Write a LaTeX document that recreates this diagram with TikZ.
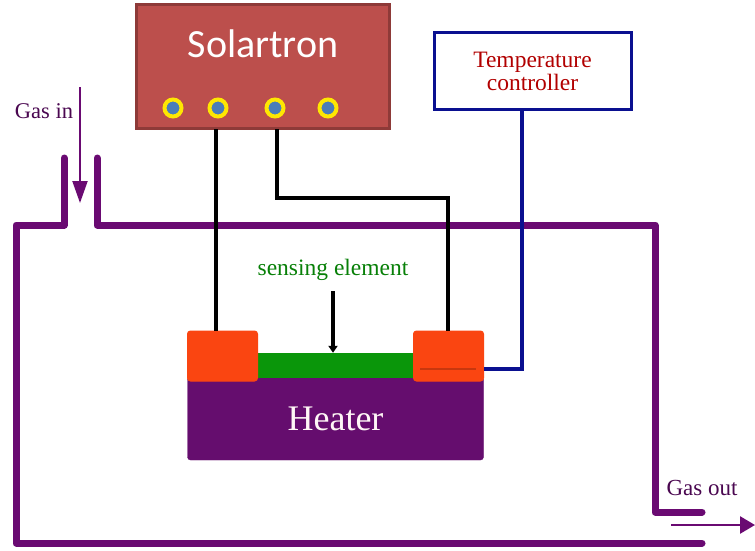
\documentclass[tikz,border=0pt]{standalone}
\usepackage{fontspec}
\setmainfont{Liberation Serif}
\newfontfamily\labelfont{Carlito}
\usetikzlibrary{arrows.meta}
\definecolor{pipecol}{HTML}{6A0A72}
\definecolor{boxred}{HTML}{BC4F4C}
\definecolor{boxedge}{HTML}{8E3A38}
\definecolor{heatcol}{HTML}{650D6E}
\definecolor{padcol}{HTML}{FA4511}
\definecolor{filmcol}{HTML}{0A960A}
\definecolor{ctrlblue}{HTML}{0A1090}
\definecolor{portblue}{HTML}{4A7DB8}
\tikzset{
  pipe/.style={draw=pipecol, line width=7pt, line cap=round, line join=round},
  wire/.style={draw=black, line width=3.4pt},
  pad/.style={draw=padcol, fill=padcol, rounded corners=3pt, line width=1pt, minimum width=70pt, minimum height=50pt, inner sep=0pt},
  port/.style={circle, draw=yellow!90!orange, fill=portblue, line width=4pt, minimum size=17pt, inner sep=0pt}
}
\begin{document}
\begin{tikzpicture}[x=1pt, y=-1pt, auto]
    \useasboundingbox (0, 0) rectangle (755, 551);
    \fill[white] (0, 0) rectangle (755, 551);
    \node[draw=boxedge, fill=boxred, line width=3pt, minimum width=253pt, minimum height=123pt, inner sep=0pt] (s) at (262.5, 66.5) {};
    \node[text=white] (st) at (263, 44) {\labelfont\fontsize{40}{40}\selectfont Solartron};
    \node[port] (p1) at (173, 108) {};
    \node[port] (p2) at (218, 108) {};
    \node[port] (p3) at (275, 108) {};
    \node[port] (p4) at (328, 108) {};
    \node[draw=ctrlblue, line width=3pt, minimum width=197pt, minimum height=76pt, inner sep=0pt, text=red!70!black, align=center, font=\fontsize{23.5}{23}\selectfont] (t) at (532.5, 71) {Temperature\\controller};
    \node[draw=heatcol, fill=heatcol, rounded corners=3pt, minimum width=296pt, minimum height=83pt, inner sep=0pt, text=white!85!pink, font=\fontsize{36}{36}\selectfont] (h) at (335.5, 418.5) {Heater};
    \node[fill=filmcol, minimum width=156pt, minimum height=25pt, inner sep=0pt] (f) at (336, 365.5) {};
    \node[pad] (l) at (222.5, 356) {};
    \node[pad] (r) at (448.5, 356) {};
    \node[text=filmcol!85!black, font=\fontsize{23.5}{23}\selectfont] (se) at (333, 270) {sensing element};
    \node[text=pipecol!70!black, font=\fontsize{22.5}{22}\selectfont] (gi) at (44, 111) {Gas in};
    \node[text=pipecol!70!black, font=\fontsize{23}{23}\selectfont] (go) at (702, 488) {Gas out};
    \coordinate (a1) at (64, 158);
    \coordinate (a2) at (64, 225);
    \coordinate (a3) at (16, 225);
    \coordinate (a4) at (16, 543);
    \coordinate (a5) at (702, 543);
    \coordinate (b1) at (97, 158);
    \coordinate (b2) at (97, 225);
    \coordinate (b3) at (655, 225);
    \coordinate (b4) at (655, 512);
    \coordinate (b5) at (702, 512);
    \coordinate (c1) at (80, 87);
    \coordinate (c2) at (80, 203);
    \coordinate (d1) at (671, 525);
    \coordinate (d2) at (755, 525);
    \coordinate (e1) at (216, 129);
    \coordinate (e2) at (277, 129);
    \coordinate (e3) at (277, 198);
    \coordinate (e4) at (448, 198);
    \coordinate (g1) at (522, 369);
    \coordinate (m1) at (420, 369);
    \coordinate (m2) at (476, 369);
    \draw[pipe] (a1) -- (a2) -- (a3) -- (a4) -- (a5);
    \draw[pipe] (b1) -- (b2) -- (b3) -- (b4) -- (b5);
    \draw[-{Triangle[length=22pt, width=15pt]}, draw=pipecol, fill=pipecol, line width=2pt] (c1) to (c2);
    \draw[-{Triangle[length=15pt, width=17pt]}, draw=pipecol, fill=pipecol, line width=2.6pt] (d1) to (d2);
    \draw[wire] (e1) -- (e1 |- l.north);
    \draw[wire] (e2) -- (e3) -- (e4) -- (e4 |- r.north);
    \draw[draw=ctrlblue, line width=3.4pt] (t.south -| g1) -- (g1) -- (g1 -| r.east);
    \draw[draw=padcol!80!black, line width=1.5pt] (m1) -- (m2);
    \draw[-{Triangle[length=7pt, width=9pt]}, line width=3.2pt] (333, 291) to (f.north -| 333, 0);
\end{tikzpicture}
\end{document}
